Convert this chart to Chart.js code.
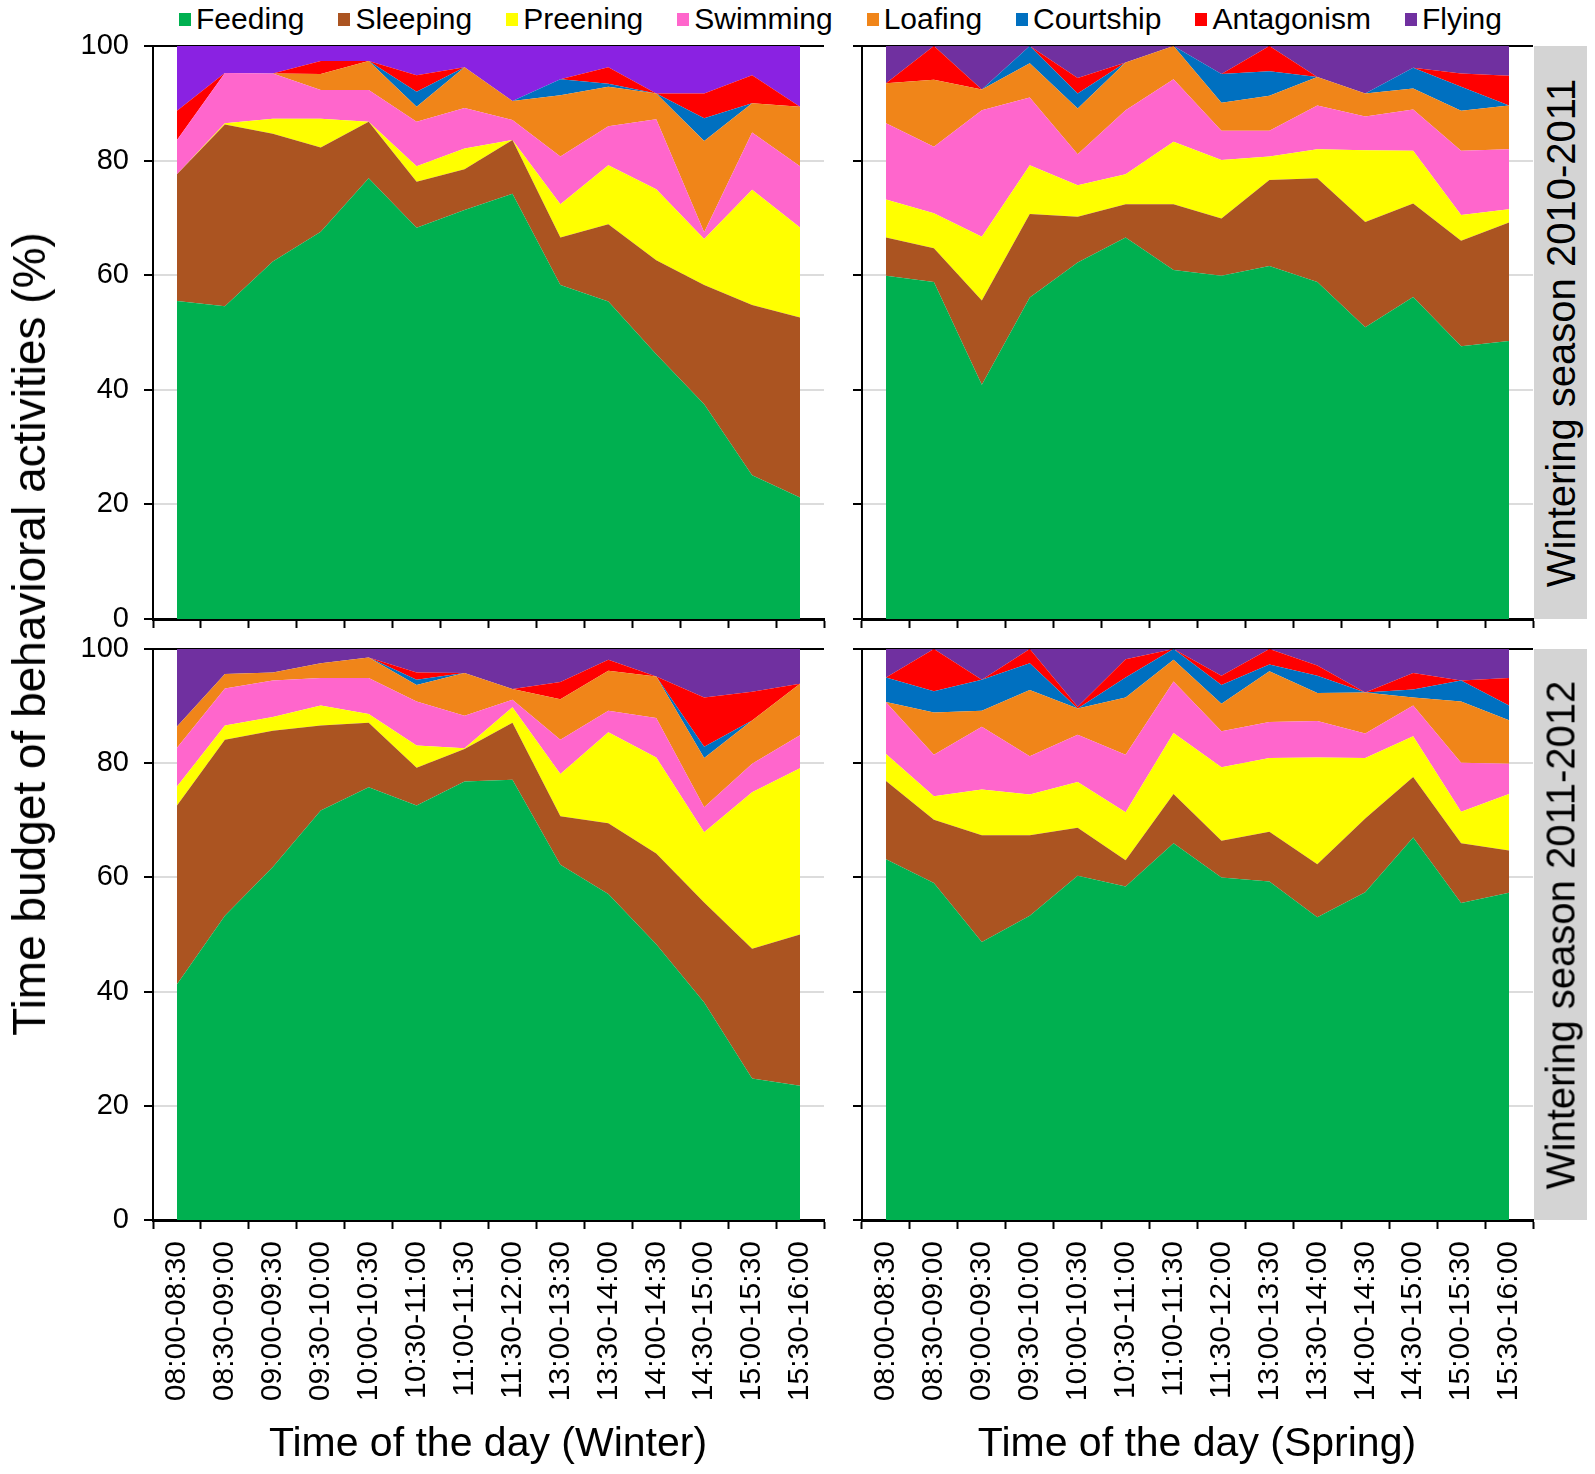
<!DOCTYPE html>
<html>
<head>
<meta charset="utf-8">
<title>Time budget of behavioral activities</title>
<script src="https://cdn.jsdelivr.net/npm/chart.js@4.4.1/dist/chart.umd.min.js"></script>
<style>
  body { margin: 0; background: #fff; font-family: "Liberation Sans", Arial, sans-serif; color: #000; }
  #fig { position: relative; width: 1595px; height: 1474px; overflow: hidden; }
  canvas { position: absolute; }
  .legend { position: absolute; left: 179px; top: 2px; display: flex; align-items: center; font-size: 30px; white-space: nowrap; }
  .legend .item { display: flex; align-items: center; margin-right: 34px; }
  .legend .box { width: 12px; height: 13px; margin-right: 5px; }
  .strip { position: absolute; left: 1534px; width: 53px; background: #d4d4d4; }
  .vtext { position: absolute; left: 50%; top: 50%; transform: translate(-50%, -50%) rotate(-90deg); white-space: nowrap; }
  .xtitle { position: absolute; top: 1442px; transform: translate(-50%, -50%); font-size: 41px; white-space: nowrap; }
</style>
</head>
<body>
<div id="fig">
  <div class="legend" id="legend"></div>

  <canvas id="tl" width="864" height="645" style="left:0px; top:11px;"></canvas>
  <canvas id="tr" width="733" height="645" style="left:840px; top:11px;"></canvas>
  <canvas id="bl" width="864" height="816" style="left:0px; top:614px;"></canvas>
  <canvas id="br" width="733" height="816" style="left:840px; top:614px;"></canvas>

  <div class="strip" style="top:46px; height:573px;"><div class="vtext" style="font-size:40px;">Wintering season 2010-2011</div></div>
  <div class="strip" style="top:649px; height:571px;"><div class="vtext" style="font-size:40px;">Wintering season 2011-2012</div></div>

  <div style="position:absolute; left:29px; top:634px; width:0; height:0;">
    <div class="vtext" style="font-size:46px;">Time budget of behavioral activities (%)</div>
  </div>
  <div class="xtitle" style="left:488px;">Time of the day (Winter)</div>
  <div class="xtitle" style="left:1197px;">Time of the day (Spring)</div>
</div>

<script>
// half-hour slots (no 12:00-13:00 slot in the data)
const categories = [
	'08:00-08:30', '08:30-09:00', '09:00-09:30', '09:30-10:00', '10:00-10:30',
	'10:30-11:00', '11:00-11:30', '11:30-12:00', '13:00-13:30', '13:30-14:00',
	'14:00-14:30', '14:30-15:00', '15:00-15:30', '15:30-16:00',
];

const seriesNames = ['Feeding', 'Sleeping', 'Preening', 'Swimming', 'Loafing', 'Courtship', 'Antagonism', 'Flying'];
const seriesColors = ['#00b050', '#ab5421', '#ffff00', '#ff66cc', '#f08519', '#0070c0', '#ff0000', '#7030a0'];

// % of time per activity, rows follow seriesNames
const winter1011 = [
	[55.5, 54.6, 62.4, 67.6, 76.9, 68.3, 71.4, 74.2, 58.3, 55.4, 46.2, 37.5, 25.1, 21.2],
	[22.1, 31.7, 22.3, 14.7, 9.9, 8.0, 7.1, 9.4, 8.3, 13.5, 16.4, 20.8, 29.7, 31.4],
	[0, 0.2, 2.6, 5.0, 0, 2.7, 3.6, 0, 5.8, 10.3, 12.4, 8.0, 20.1, 15.7],
	[6.0, 8.8, 7.9, 5.0, 5.5, 7.8, 7.1, 3.5, 8.3, 6.8, 12.2, 1.2, 10.0, 10.7],
	[0, 0, 0, 2.8, 5.1, 2.6, 7.1, 3.3, 10.7, 6.9, 4.5, 15.9, 5.1, 10.4],
	[0, 0, 0, 0, 0, 2.6, 0, 0, 2.8, 0.5, 0, 4.0, 0, 0],
	[5.1, 0, 0, 2.3, 0, 2.9, 0, 0, 0, 2.9, 0, 4.3, 4.9, 0],
	[11.3, 4.7, 4.8, 2.6, 2.6, 5.1, 3.7, 9.6, 5.8, 3.7, 8.3, 8.3, 5.1, 10.6],
];

const spring1011 = [
	[59.9, 58.8, 40.9, 56.1, 62.2, 66.6, 60.9, 59.9, 61.6, 58.8, 50.9, 56.2, 47.6, 48.5],
	[6.7, 5.9, 14.7, 14.6, 8.0, 5.8, 11.5, 10.0, 15.0, 18.1, 18.4, 16.3, 18.4, 20.7],
	[6.6, 6.1, 11.1, 8.5, 5.5, 5.2, 10.9, 10.2, 4.1, 5.1, 12.5, 9.2, 4.5, 2.3],
	[13.3, 11.6, 22.1, 11.8, 5.4, 11.2, 10.9, 5.1, 4.5, 7.6, 5.9, 7.2, 11.2, 10.5],
	[7.0, 11.7, 3.6, 6.0, 8.0, 8.3, 5.8, 4.9, 6.1, 5.0, 4.0, 3.7, 7.0, 7.6],
	[0, 0, 0, 3.0, 2.6, 0, 0, 5.0, 4.3, 0, 0, 3.6, 4.2, 0],
	[0, 5.9, 0, 0, 2.7, 0, 0, 0, 4.4, 0, 0, 0, 2.3, 5.2],
	[6.5, 0, 7.6, 0, 5.6, 2.9, 0, 4.9, 0, 5.4, 8.3, 3.8, 4.8, 5.2],
];

const winter1112 = [
	[41.3, 53.3, 61.8, 71.7, 75.8, 72.6, 76.8, 77.1, 62.2, 57.1, 48.3, 38.1, 24.8, 23.5],
	[31.3, 30.8, 23.9, 14.9, 11.3, 6.6, 5.7, 10.0, 8.5, 12.4, 15.9, 17.5, 22.7, 26.5],
	[3.3, 2.5, 2.4, 3.5, 1.5, 3.9, 0.1, 2.7, 7.4, 15.9, 16.8, 12.3, 27.4, 29.1],
	[6.8, 6.5, 6.4, 4.8, 6.3, 7.7, 5.7, 1.3, 6.0, 3.8, 6.9, 4.4, 5.0, 5.8],
	[3.7, 2.5, 1.4, 2.6, 3.6, 2.9, 7.5, 1.9, 7.1, 7.0, 7.3, 8.6, 7.6, 9.0],
	[0, 0, 0, 0, 0, 0.9, 0, 0, 0, 0, 0, 2.0, 0, 0],
	[0, 0, 0, 0, 0, 1.3, 0, 0, 3.0, 1.9, 0, 8.6, 5.0, 0],
	[13.6, 4.4, 4.1, 2.5, 1.5, 4.1, 4.2, 7.0, 5.8, 1.9, 4.8, 8.5, 7.5, 6.1],
];

const spring1112 = [
	[63.2, 59.0, 48.7, 53.3, 60.3, 58.4, 66.0, 60.0, 59.3, 53.0, 57.4, 67.0, 55.5, 57.3],
	[13.7, 11.1, 18.7, 14.1, 8.4, 4.6, 8.6, 6.4, 8.7, 9.3, 12.9, 10.6, 10.5, 7.4],
	[4.7, 4.1, 8.0, 7.1, 8.0, 8.4, 10.7, 12.9, 12.9, 18.7, 10.6, 7.1, 5.5, 9.9],
	[9.1, 7.3, 11.0, 6.7, 8.3, 10.1, 9.0, 6.3, 6.3, 6.4, 4.3, 5.4, 8.6, 5.3],
	[0, 7.4, 2.8, 11.6, 4.6, 10.0, 3.8, 4.8, 8.9, 4.9, 7.2, 1.4, 10.7, 7.6],
	[4.3, 3.7, 5.4, 4.7, 0, 3.5, 1.9, 3.3, 1.2, 3.0, 0, 1.4, 3.7, 2.6],
	[0, 7.4, 0, 2.5, 0.3, 3.2, 0, 1.6, 2.7, 1.8, 0, 2.9, 0, 4.8],
	[5.0, 0, 5.4, 0, 10.1, 1.8, 0, 4.7, 0, 2.9, 7.6, 4.2, 5.5, 5.1],
];

const yTicks = [0, 20, 40, 60, 80, 100];

// legend across the top
const legendEl = document.getElementById('legend');
seriesNames.forEach((name, i) => {
	const item = document.createElement('div');
	item.className = 'item';
	item.innerHTML = `<span class="box" style="background:${seriesColors[i]}"></span><span>${name}</span>`;
	legendEl.appendChild(item);
});

function makePanel(canvasId, values, opts) {
	const datasets = seriesNames.map((name, i) => ({
		label: name,
		data: values[i],
		backgroundColor: i === 7 && opts.flyColor ? opts.flyColor : seriesColors[i],
		borderWidth: 0,
		pointRadius: 0,
		pointHoverRadius: 0,
		tension: 0,
		fill: i === 0 ? 'origin' : '-1',
	}));
	return new Chart(document.getElementById(canvasId).getContext('2d'), {
		type: 'line',
		data: { labels: categories, datasets },
		options: {
			responsive: false,
			animation: false,
			events: [],
			// generous padding so tick labels never squeeze the plot box
			layout: { padding: { top: 35, right: 40, bottom: opts.showX ? 10 : 25, left: 0 } },
			plugins: { legend: { display: false }, tooltip: { enabled: false } },
			scales: {
				x: {
					offset: true,
					z: 1,
					grid: { offset: true, drawOnChartArea: false, tickLength: 9, tickWidth: 2, tickColor: '#000' },
					border: { color: '#000', width: 3 },
					ticks: {
						display: opts.showX,
						autoSkip: false,
						minRotation: 90,
						maxRotation: 90,
						padding: 12,
						color: '#000',
						font: { family: '"Liberation Sans", Arial, sans-serif', size: 30 },
					},
					afterFit(scale) { scale.height = opts.showX ? 200 : 12; },
				},
				y: {
					stacked: true,
					min: 0,
					max: 100,
					afterBuildTicks(scale) { scale.ticks = yTicks.map(v => ({ value: v })); },
					grid: {
						color: c => (c.tick.value === 100 ? '#000' : c.tick.value === 0 ? 'rgba(0,0,0,0)' : '#dcdcdc'),
						lineWidth: 2,
						tickLength: 9,
						tickWidth: 2,
						tickColor: '#000',
					},
					border: { color: '#000', width: 2 },
					ticks: {
						display: opts.showY,
						padding: 15,
						color: '#000',
						font: { family: '"Liberation Sans", Arial, sans-serif', size: 29 },
					},
					afterFit(scale) { scale.width = opts.yWidth; },
				},
			},
		},
	});
}

makePanel('tl', winter1011, { showX: false, showY: true, yWidth: 153, flyColor: '#8a22e2' });
makePanel('tr', spring1011, { showX: false, showY: false, yWidth: 22 });
makePanel('bl', winter1112, { showX: true, showY: true, yWidth: 153 });
makePanel('br', spring1112, { showX: true, showY: false, yWidth: 22 });
</script>
</body>
</html>
